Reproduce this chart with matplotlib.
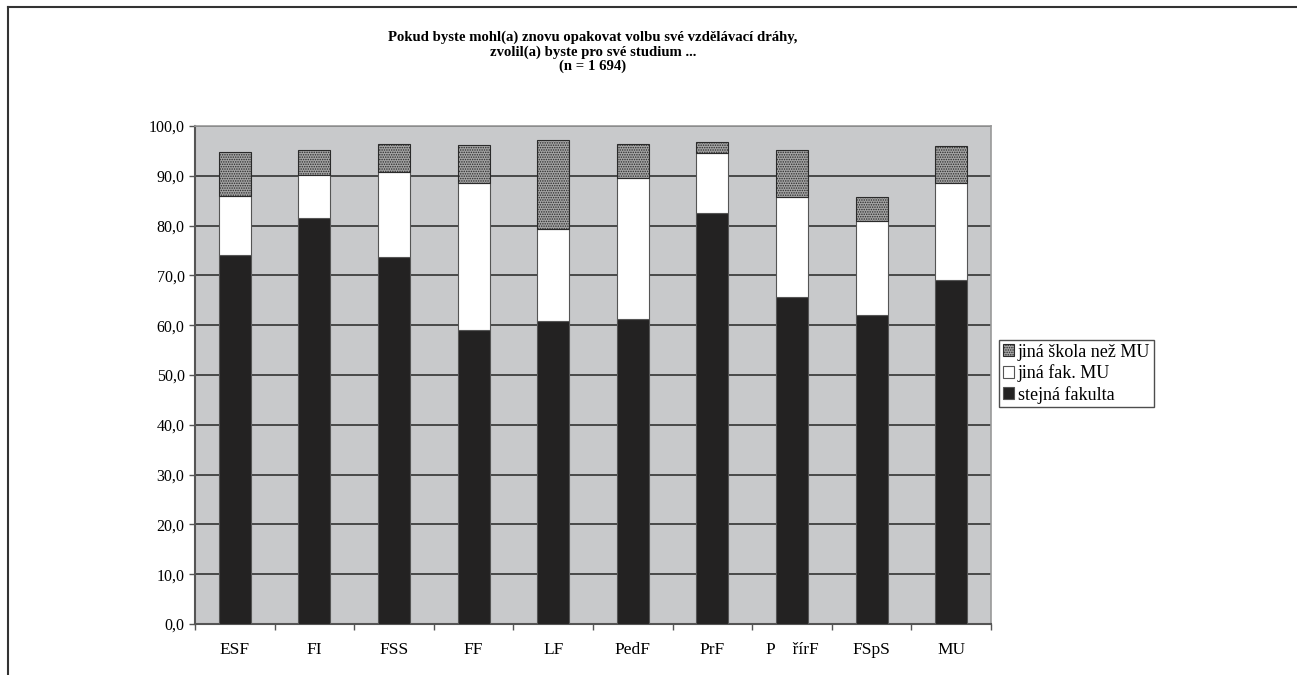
import matplotlib.pyplot as plt
import numpy as np
from matplotlib.lines import Line2D

plt.rcParams['font.family'] = ['Liberation Serif', 'DejaVu Serif']
plt.rcParams['hatch.linewidth'] = 0.7

faculties = ['ESF', 'FI', 'FSS', 'FF', 'LF', 'PedF', 'PrF', 'P    řírF', 'FSpS', 'MU']
# cumulative heights
top_black = [74.0, 81.5, 73.7, 59.1, 60.9, 61.3, 82.5, 65.7, 62.0, 69.1]
top_white = [86.0, 90.1, 90.8, 88.6, 79.4, 89.6, 94.5, 85.8, 80.9, 88.5]
top_total = [94.7, 95.1, 96.3, 96.2, 97.2, 96.3, 96.8, 95.1, 85.7, 95.9]

stejna = np.array(top_black)
jina_fak = np.array(top_white) - stejna
jina_skola = np.array(top_total) - np.array(top_white)

fig = plt.figure(figsize=(12.97, 6.75), dpi=100)
ax = fig.add_axes([195/1297, 51/675, 796/1297, 498/675])
ax.set_facecolor('#c8c9cb')

x = np.arange(len(faculties))
w = 0.4
ax.bar(x, stejna, w, color='#232222', edgecolor='#555555', linewidth=0.8,
       label='stejná fakulta', zorder=3)
ax.bar(x, jina_fak, w, bottom=stejna, color='white', edgecolor='#555555',
       linewidth=0.8, label='jiná fak. MU', zorder=3)
ax.bar(x, jina_skola, w, bottom=stejna + jina_fak, color='#a4a4a4',
       edgecolor='#2a2a2a', hatch='.......', linewidth=0.8,
       label='jiná škola než MU', zorder=3)

ax.set_xlim(-0.5, len(faculties) - 0.5)
ax.set_ylim(0, 100)
ax.set_yticks(np.arange(0, 101, 10))
ax.set_yticklabels([f'{v:.1f}'.replace('.', ',') for v in np.arange(0, 101, 10)])
ax.yaxis.grid(True, color='#333333', linewidth=1.2, zorder=1)
ax.set_axisbelow(True)

ax.set_xticks(x)
ax.set_xticklabels(faculties)
ax.set_xticks(np.arange(-0.5, len(faculties)), minor=True)
ax.tick_params(axis='x', which='major', length=0, pad=13, labelsize=12.5)
ax.tick_params(axis='x', which='minor', length=4, width=1, color='#555555')
ax.tick_params(axis='y', length=4, width=1, color='#555555', labelsize=11.5)

for s in ['left', 'bottom']:
    ax.spines[s].set_color('#555555')
    ax.spines[s].set_linewidth(1.5)
for s in ['top', 'right']:
    ax.spines[s].set_color('#999999')
    ax.spines[s].set_linewidth(1.2)

handles, labels = ax.get_legend_handles_labels()
leg = fig.legend(handles[::-1], labels[::-1], loc='upper left',
                 bbox_to_anchor=(999/1297, 1 - 340/675), fontsize=13,
                 frameon=True, fancybox=False, edgecolor='#222222',
                 handlelength=0.65, handleheight=0.65, handletextpad=0.2,
                 borderpad=0.2, labelspacing=0.2, borderaxespad=0)
leg.get_frame().set_linewidth(1.0)

fig.text(593/1297, 1 - 52/675,
         'Pokud byste mohl(a) znovu opakovat volbu své vzdělávací dráhy,\n'
         'zvolil(a) byste pro své studium ...\n(n = 1 694)',
         ha='center', va='center', fontsize=10.6, fontweight='bold',
         linespacing=1.1)

# outer frame (top and left edges)
fig.add_artist(Line2D([8/1297, 1], [1 - 7/675, 1 - 7/675], color='#333333',
                      linewidth=1.5, transform=fig.transFigure))
fig.add_artist(Line2D([8/1297, 8/1297], [0, 1 - 7/675], color='#333333',
                      linewidth=1.5, transform=fig.transFigure))

fig.savefig('out.png', dpi=100)
